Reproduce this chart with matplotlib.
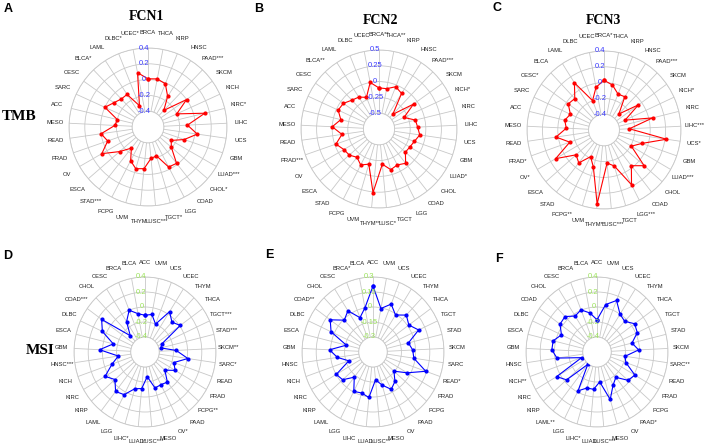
import matplotlib.pyplot as plt
import numpy as np

plt.rcParams['font.family'] = ['Liberation Sans', 'DejaVu Sans']

# TMB panels: categories clockwise from the top
tmb_names = ['BRCA', 'THCA', 'KIRP', 'HNSC', 'PAAD', 'SKCM', 'KICH', 'KIRC', 'LIHC', 'UCS', 'GBM',
             'LUAD', 'CHOL', 'COAD', 'LGG', 'TGCT', 'LUSC', 'THYM', 'UVM', 'PCPG', 'STAD', 'ESCA',
             'OV', 'PRAD', 'READ', 'MESO', 'ACC', 'SARC', 'CESC', 'BLCA', 'LAML', 'DLBC', 'UCEC']
fcn1_tmb_stars = ['', '', '', '', '***', '', '', '*', '', '', '', '***', '*', '', '', '*', '***', '',
                  '', '', '***', '', '', '', '', '', '', '', '', '*', '', '*', '*']
fcn2_tmb_stars = ['**', '**', '', '', '***', '', '*', '', '', '', '', '*', '', '', '', '', '*', '**',
                  '', '', '', '', '', '***', '', '', '', '', '', '**', '', '', '']
fcn3_tmb_stars = ['*', '', '', '', '***', '', '*', '', '***', '*', '', '***', '', '', '***', '', '***', '**',
                  '', '**', '', '', '*', '*', '', '', '', '', '*', '', '', '', '']

fcn1_tmb = [0.01, 0.02, -0.01, -0.14, -0.31, 0.0, -0.2, 0.14, -0.1, 0.03, -0.115,
            -0.26, -0.21, -0.015, -0.03, -0.22, -0.2, -0.07, -0.05, -0.12, -0.26, -0.125,
            0.075, -0.06, 0.0, -0.18, -0.2, 0.0, -0.07, -0.11, -0.11, -0.31, 0.1]
fcn2_tmb = [-0.1, -0.1, -0.03, -0.08, -0.43, -0.07, -0.31, -0.15, -0.13, -0.09, -0.15,
            -0.18, -0.19, -0.06, -0.11, -0.08, -0.19, 0.26, -0.17, -0.11, -0.18, -0.12,
            -0.1, -0.02, -0.15, 0.0, -0.12, -0.03, -0.05, -0.12, -0.15, -0.21, 0.0]
fcn3_tmb = [0.03, -0.02, -0.11, -0.1, -0.32, -0.05, -0.3, 0.05, -0.27, 0.22, -0.08,
            -0.19, 0.09, -0.025, 0.18, -0.125, -0.18, 0.34, -0.11, -0.22, -0.07, -0.12,
            0.125, -0.13, 0.03, -0.11, -0.075, -0.12, -0.03, -0.05, 0.11, -0.2, -0.05]

# MSI panels
msi_names = ['ACC', 'UVM', 'UCS', 'UCEC', 'THYM', 'THCA', 'TGCT', 'STAD', 'SKCM', 'SARC', 'READ',
             'PRAD', 'PCPG', 'PAAD', 'OV', 'MESO', 'LUSC', 'LUAD', 'LIHC', 'LGG', 'LAML', 'KIRP',
             'KIRC', 'KICH', 'HNSC', 'GBM', 'ESCA', 'DLBC', 'COAD', 'CHOL', 'CESC', 'BRCA', 'BLCA']
fcn1_msi_stars = ['', '', '', '', '', '', '***', '***', '**', '*', '', '', '**', '', '*', '', '***', '*',
                  '*', '', '', '', '', '', '***', '', '', '', '***', '', '', '', '']
fcn2_msi_stars = ['', '', '', '', '', '', '', '', '', '', '*', '', '', '', '', '', '**', '',
                  '', '', '', '', '', '', '', '', '', '', '**', '', '', '*', '']
fcn3_msi_stars = ['', '', '', '', '', '', '', '', '', '**', '', '', '', '*', '', '', '***', '',
                  '*', '', '**', '', '', '**', '', '', '', '', '', '', '', '', '']

fcn1_msi = [-0.11, -0.09, -0.2, 0.04, -0.05, 0.01, -0.34, -0.37, -0.16, 0.01, -0.17,
            -0.11, -0.23, -0.09, -0.11, -0.1, -0.27, -0.11, -0.09, 0.04, 0.07, -0.04,
            0.05, -0.11, -0.22, 0.04, -0.14, 0.06, 0.15, -0.3, -0.12, 0.0, -0.08]
fcn2_msi = [0.21, -0.007, 0.066, -0.01, 0.06, 0.015, 0.08, -0.065, -0.03, -0.014, 0.14,
            -0.034, -0.157, -0.075, -0.03, -0.105, -0.17, 0.007, -0.023, -0.007, -0.13, -0.026,
            -0.003, -0.18, -0.07, 0.01, -0.16, 0.037, 0.105, -0.01, 0.04, -0.08, 0.0]
fcn3_msi = [-0.17, 0.044, 0.14, 0.0, -0.035, 0.05, 0.024, -0.093, -0.013, -0.2, -0.17,
            0.017, -0.024, -0.17, -0.105, 0.06, -0.2, -0.1, -0.1, -0.017, -0.39, -0.033,
            0.056, -0.37, -0.03, 0.037, 0.035, -0.05, 0.04, 0.053, -0.03, 0.005, -0.07]

fig = plt.figure(figsize=(7.08, 4.47), dpi=100)
W, H = 708, 447


def radar(cx, cy, rx, ry, names, stars, values, vmin, vmax, tlabels, color, tcolor):
    ax = fig.add_axes([(cx - rx) / W, 1 - (cy + ry) / H, 2 * rx / W, 2 * ry / H], projection='polar')
    ax.set_aspect('auto')
    n = len(names)
    theta = np.arange(n) * 2 * np.pi / n
    step = (vmax - vmin) / 4
    ax.set_theta_zero_location('N')
    ax.set_theta_direction(-1)
    ax.set_ylim(vmin, vmax)
    ax.set_rorigin(vmin - step)
    ax.set_xticks(theta)
    ax.set_xticklabels([])
    ax.set_yticks(np.linspace(vmin, vmax, 5))
    ax.set_yticklabels([])
    ax.tick_params(length=0)
    ax.grid(True, color='#c8c8c8', lw=0.6)
    for s in ax.spines.values():
        s.set_color('#c8c8c8')
        s.set_linewidth(0.6)

    th = np.append(theta, theta[0])
    vv = np.append(values, values[0])
    ax.plot(th, vv, color=color, lw=0.8, marker='o', ms=2.0, zorder=5)

    # category labels just outside the outer ring
    for t, nm, st in zip(theta, names, stars):
        x = 0.5 + 0.59 * np.sin(t)
        y = 0.5 + 0.6 * np.cos(t)
        ax.text(x, y, nm + st, transform=ax.transAxes, ha='center', va='center',
                fontsize=4.2, color='#222222', clip_on=False)
    # axis value labels
    for i, lb in enumerate(tlabels):
        f = (i + 1) / 5
        ax.text(0.475, 0.5 + 0.5 * f, lb, transform=ax.transAxes, ha='center', va='center',
                fontsize=5.5, color=tcolor, zorder=6)
    return ax


blue_t = '#3a3aff'
green_t = '#9be35a'
radar(148, 127, 79, 79, tmb_names, fcn1_tmb_stars, fcn1_tmb, -0.4, 0.4,
      ['-0.4', '-0.2', '0', '0.2', '0.4'], 'red', blue_t)
radar(379, 129, 78, 79, tmb_names, fcn2_tmb_stars, fcn2_tmb, -0.5, 0.5,
      ['-0.5', '-0.25', '0', '0.25', '0.5'], 'red', blue_t)
radar(604, 130, 77, 79, tmb_names, fcn3_tmb_stars, fcn3_tmb, -0.4, 0.4,
      ['-0.4', '-0.2', '0', '0.2', '0.4'], 'red', blue_t)
radar(145, 352, 71, 75, msi_names, fcn1_msi_stars, fcn1_msi, -0.4, 0.4,
      ['-0.4', '-0.2', '0', '0.2', '0.4'], 'blue', green_t)
radar(373, 352, 71, 75, msi_names, fcn2_msi_stars, fcn2_msi, -0.3, 0.3,
      ['-0.3', '-0.15', '0', '0.15', '0.3'], 'blue', green_t)
radar(597, 352, 71, 75, msi_names, fcn3_msi_stars, fcn3_msi, -0.4, 0.4,
      ['-0.4', '-0.2', '0', '0.2', '0.4'], 'blue', green_t)

# titles and row labels
for x, y, s in [(146, 17, 'FCN1'), (381, 20, 'FCN2'), (603, 20, 'FCN3')]:
    fig.text(x / W, 1 - y / H, s, ha='center', va='center', fontsize=10,
             fontweight='bold', family='Liberation Serif')
fig.text(19 / W, 1 - 117 / H, 'TMB', ha='center', va='center', fontsize=11,
         fontweight='bold', family='Liberation Serif')
fig.text(40 / W, 1 - 351 / H, 'MSI', ha='center', va='center', fontsize=11,
         fontweight='bold', family='Liberation Serif')

for x, y, s in [(8, 9, 'A'), (259, 9, 'B'), (497, 8, 'C'), (8, 256, 'D'), (269, 255, 'E'), (499, 259, 'F')]:
    fig.text(x / W, 1 - y / H, s, ha='center', va='center', fontsize=9, fontweight='bold')

fig.savefig('out.png', dpi=100)
